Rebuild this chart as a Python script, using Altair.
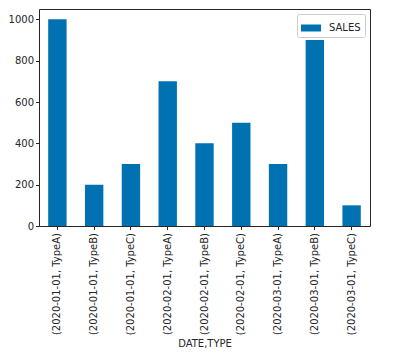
import altair as alt
import pandas as pd

labels = ["(2020-01-01, TypeA)", "(2020-01-01, TypeB)", "(2020-01-01, TypeC)",
          "(2020-02-01, TypeA)", "(2020-02-01, TypeB)", "(2020-02-01, TypeC)",
          "(2020-03-01, TypeA)", "(2020-03-01, TypeB)", "(2020-03-01, TypeC)"]
sales = [1000, 200, 300, 700, 400, 500, 300, 900, 100]
series = ["SALES"] * len(labels)

df = pd.DataFrame({"label": labels, "SALES": sales, "series": series})

font = "DejaVu Sans"
chart = alt.Chart(df).mark_bar().encode(
    x=alt.X("label:N", sort=labels,
            scale=alt.Scale(paddingInner=0.5, paddingOuter=0.25),
            axis=alt.Axis(title="DATE,TYPE", labelAngle=270, labelAlign="right",
                          labelBaseline="middle", labelFont=font, labelFontSize=10,
                          labelColor="#262626", titleFont=font, titleFontSize=10,
                          titleFontWeight="normal", titleColor="#262626",
                          tickSize=3.5, tickColor="#262626", domain=False,
                          labelPadding=3, titlePadding=4, labelLimit=300)),
    y=alt.Y("SALES:Q", scale=alt.Scale(domain=[0, 1050], nice=False),
            axis=alt.Axis(title=None, values=[0, 200, 400, 600, 800, 1000], grid=False,
                          format="d",
                          labelFont=font, labelFontSize=10, labelColor="#262626",
                          tickSize=3.5, tickColor="#262626", domain=False, labelPadding=2)),
    color=alt.Color("series:N", scale=alt.Scale(range=["#0072b2"]),
                    legend=alt.Legend(title=None, orient="top-right", offset=5,
                                      labelFont=font, labelFontSize=10, labelColor="#262626",
                                      symbolType="M-1,-0.35L1,-0.35L1,0.35L-1,0.35Z",
                                      symbolSize=400, symbolStrokeWidth=0, labelOffset=8,
                                      strokeColor="#cccccc", padding=4, cornerRadius=2,
                                      fillColor="white")),
).properties(
    width=331, height=217,
    autosize=alt.AutoSizeParams(type="none"),
    padding={"left": 31, "top": 1, "right": 16, "bottom": 130},
).configure_view(stroke="#262626", strokeWidth=1)

chart.save("out.html", embed_options={"renderer": "svg", "actions": False})
